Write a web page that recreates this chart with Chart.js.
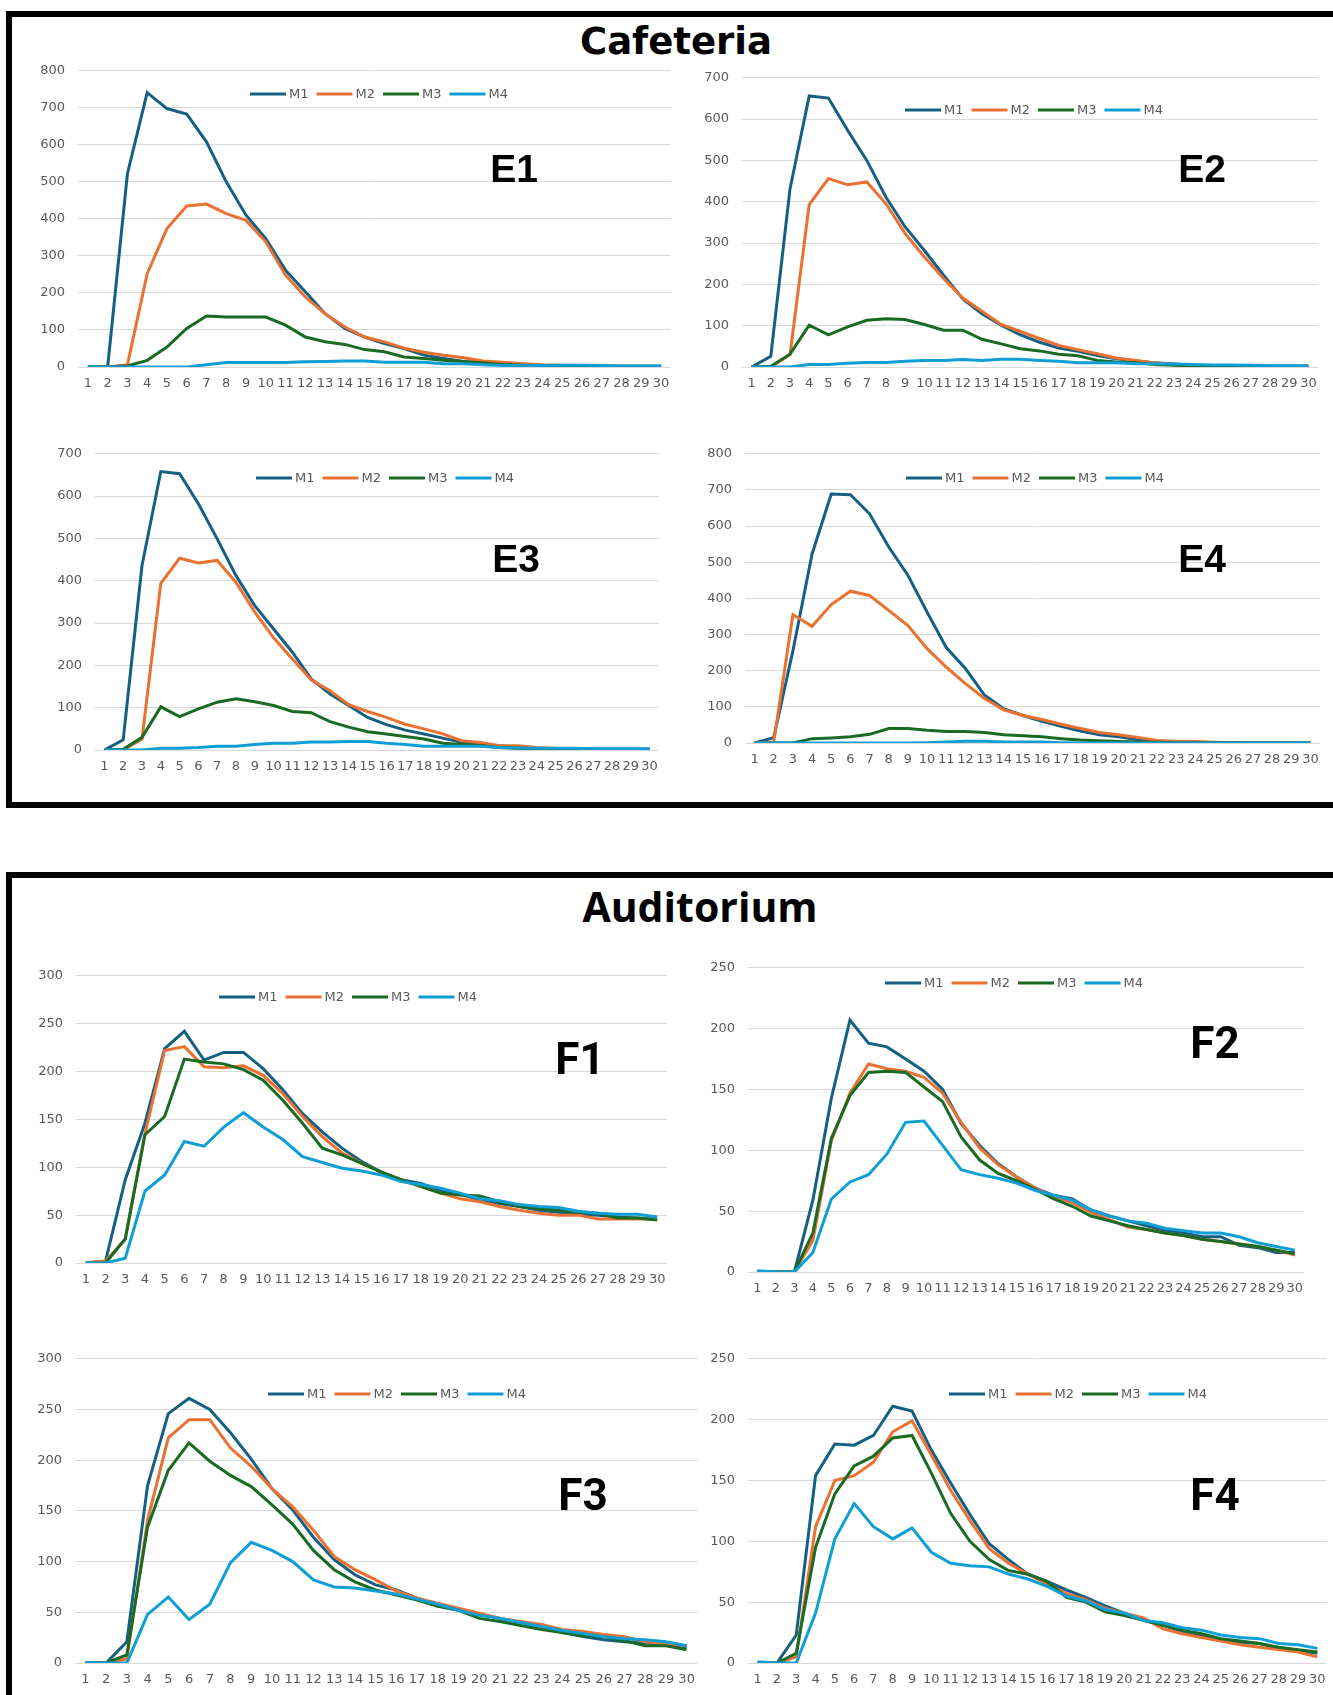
<!DOCTYPE html>
<html>
<head>
<meta charset="utf-8">
<title>Cafeteria / Auditorium</title>
<script src="https://cdn.jsdelivr.net/npm/chart.js@4.4.1/dist/chart.umd.min.js"></script>
<style>
  html, body { margin: 0; padding: 0; background: #fff; }
  #page { position: relative; width: 1333px; height: 1695px; overflow: hidden; background: #fff; }
  .panel { position: absolute; border: 6px solid #000; box-sizing: border-box; }
  .txt { position: absolute; line-height: 1; white-space: nowrap; transform: translateX(-50%); color: #000; font-weight: bold; }
  canvas { position: absolute; }
</style>
</head>
<body>
<div id="page">
  <div class="panel" style="left:6px; top:11px; width:1350px; height:797px;"></div>
  <div class="panel" style="left:6px; top:872px; width:1350px; height:900px;"></div>
  <div class="txt" style="left:676px; top:23px; font-family:'DejaVu Sans'; font-size:37px;">Cafeteria</div>
  <div class="txt" style="left:700px; top:886px; font-family:'Open Sans'; font-size:41px;">Auditorium</div>
</div>
<script>
// x categories (days)
const days = [1, 2, 3, 4, 5, 6, 7, 8, 9, 10, 11, 12, 13, 14, 15, 16, 17, 18, 19, 20, 21, 22, 23, 24, 25, 26, 27, 28, 29, 30];
const seriesNames = ['M1', 'M2', 'M3', 'M4'];

// Cafeteria
const e1M1 = [0, 0, 522, 741, 698, 683, 608, 500, 410, 347, 261, 203, 144, 104, 81, 63, 50, 32, 23, 15, 11, 7, 5, 3, 2, 2, 1, 1, 1, 1];
const e1M2 = [0, 0, 6, 252, 374, 435, 440, 414, 396, 338, 248, 189, 144, 108, 81, 68, 51, 40, 32, 25, 16, 13, 9, 6, 5, 4, 3, 2, 2, 2];
const e1M3 = [0, 0, 3, 18, 54, 104, 138, 135, 135, 135, 113, 81, 68, 61, 47, 41, 27, 23, 18, 15, 11, 7, 5, 4, 3, 2, 2, 2, 2, 2];
const e1M4 = [0, 0, 0, 0, 0, 0, 6, 12, 12, 12, 12, 14, 15, 16, 16, 13, 13, 13, 9, 9, 6, 4, 4, 4, 5, 5, 4, 3, 3, 3];

const e2M1 = [0, 26, 431, 656, 651, 573, 500, 411, 339, 282, 222, 165, 129, 101, 78, 60, 46, 38, 28, 20, 15, 10, 7, 4, 3, 2, 2, 2, 2, 2];
const e2M2 = [0, 0, 30, 393, 456, 441, 448, 395, 323, 266, 214, 167, 135, 103, 86, 69, 52, 42, 32, 22, 16, 10, 6, 4, 3, 2, 2, 2, 2, 2];
const e2M3 = [0, 2, 31, 101, 78, 97, 113, 117, 115, 103, 89, 89, 67, 56, 44, 39, 31, 27, 16, 12, 10, 6, 4, 2, 1, 1, 1, 1, 1, 1];
const e2M4 = [0, 0, 0, 6, 6, 9, 11, 11, 14, 16, 16, 18, 16, 19, 19, 16, 14, 10, 10, 10, 8, 8, 7, 6, 5, 5, 4, 3, 3, 3];

const e3M1 = [0, 24, 436, 658, 653, 582, 499, 412, 341, 286, 231, 168, 132, 105, 77, 60, 47, 38, 28, 18, 14, 10, 6, 4, 3, 3, 2, 2, 2, 2];
const e3M2 = [0, 0, 26, 394, 453, 442, 448, 396, 326, 265, 215, 166, 140, 107, 91, 77, 61, 50, 38, 22, 18, 10, 10, 6, 4, 3, 2, 2, 2, 2];
const e3M3 = [0, 2, 30, 102, 79, 97, 113, 121, 114, 105, 91, 88, 67, 54, 43, 38, 32, 26, 16, 13, 10, 6, 4, 2, 1, 1, 1, 1, 1, 1];
const e3M4 = [0, 0, 0, 4, 4, 6, 9, 9, 13, 16, 16, 19, 19, 20, 20, 16, 13, 9, 9, 9, 9, 6, 5, 4, 4, 4, 3, 3, 3, 3];

const e4M1 = [0, 15, 255, 523, 689, 687, 634, 542, 464, 362, 264, 206, 132, 95, 76, 60, 46, 33, 23, 17, 9, 5, 3, 2, 1, 0, 0, 0, 0, 0];
const e4M2 = [0, 3, 355, 323, 383, 420, 408, 367, 325, 261, 210, 164, 123, 92, 76, 65, 52, 40, 29, 23, 15, 7, 5, 4, 2, 1, 0, 0, 0, 0];
const e4M3 = [0, 0, 0, 12, 14, 17, 24, 40, 40, 35, 32, 32, 29, 23, 20, 17, 12, 8, 6, 4, 3, 2, 1, 1, 1, 0, 0, 0, 0, 0];
const e4M4 = [0, 0, 0, 0, 0, 0, 0, 0, 0, 1, 3, 5, 5, 3, 3, 3, 1, 0, 0, 0, 0, 0, 0, 0, 0, 0, 0, 0, 0, 0];

// Auditorium
const f1M1 = [0, 2, 87, 146, 224, 242, 212, 220, 220, 203, 181, 156, 137, 120, 106, 95, 87, 83, 76, 72, 66, 62, 59, 55, 53, 51, 50, 48, 47, 46];
const f1M2 = [0, 2, 25, 135, 222, 226, 205, 204, 206, 196, 177, 153, 132, 115, 104, 95, 86, 80, 73, 67, 64, 59, 55, 52, 50, 50, 46, 46, 46, 46];
const f1M3 = [0, 0, 25, 134, 153, 213, 210, 208, 202, 191, 170, 146, 120, 113, 104, 95, 87, 80, 73, 71, 70, 64, 59, 57, 55, 53, 52, 47, 47, 45];
const f1M4 = [0, 0, 5, 75, 92, 127, 122, 142, 157, 142, 129, 111, 105, 99, 96, 92, 85, 82, 78, 73, 67, 65, 61, 59, 58, 54, 52, 51, 51, 48];

const f2M1 = [0, 0, 0, 59, 143, 207, 188, 185, 175, 165, 150, 122, 104, 89, 78, 69, 63, 60, 51, 46, 42, 38, 34, 32, 29, 29, 22, 20, 16, 16];
const f2M2 = [0, 0, 0, 26, 108, 147, 171, 167, 165, 160, 147, 123, 102, 88, 78, 69, 62, 57, 49, 43, 37, 35, 32, 30, 27, 25, 23, 21, 18, 14];
const f2M3 = [0, 0, 0, 32, 110, 145, 164, 165, 164, 152, 140, 111, 92, 81, 75, 68, 60, 54, 46, 42, 38, 35, 32, 30, 27, 25, 23, 21, 18, 15];
const f2M4 = [1, 0, 0, 16, 60, 74, 80, 97, 123, 124, 104, 84, 80, 77, 73, 67, 63, 59, 51, 46, 42, 40, 36, 34, 32, 32, 29, 24, 21, 18];

const f3M1 = [0, 0, 21, 175, 246, 261, 250, 227, 201, 172, 151, 124, 102, 87, 77, 72, 64, 57, 52, 48, 44, 40, 36, 30, 26, 23, 21, 20, 18, 16];
const f3M2 = [0, 0, 4, 141, 222, 240, 240, 212, 194, 172, 154, 131, 105, 92, 82, 71, 64, 59, 54, 49, 44, 41, 38, 33, 31, 28, 26, 21, 19, 17];
const f3M3 = [0, 0, 8, 134, 190, 217, 199, 185, 174, 156, 137, 111, 92, 80, 72, 67, 62, 56, 52, 44, 41, 37, 33, 30, 27, 26, 22, 17, 17, 13];
const f3M4 = [0, 0, 0, 48, 65, 43, 58, 99, 119, 111, 100, 82, 75, 74, 71, 68, 63, 58, 52, 47, 44, 40, 36, 32, 29, 26, 24, 23, 21, 17];

const f4M1 = [0, 0, 23, 154, 180, 179, 187, 211, 207, 175, 148, 122, 98, 85, 73, 67, 60, 54, 47, 41, 35, 31, 26, 23, 19, 17, 16, 12, 10, 8];
const f4M2 = [0, 0, 5, 112, 150, 154, 165, 190, 199, 171, 142, 117, 94, 82, 73, 65, 57, 52, 45, 41, 37, 28, 24, 21, 18, 15, 13, 11, 9, 5];
const f4M3 = [0, 0, 8, 95, 139, 162, 170, 185, 187, 156, 123, 100, 85, 76, 73, 67, 54, 50, 42, 39, 35, 31, 27, 24, 20, 18, 16, 13, 11, 9];
const f4M4 = [1, 0, 0, 41, 102, 131, 112, 102, 111, 91, 82, 80, 79, 73, 69, 63, 55, 51, 44, 41, 35, 33, 29, 27, 23, 21, 20, 16, 15, 12];

// y axis maxima and steps
const yMaxE = [800, 700, 700, 800];
const yMaxF = [300, 250, 300, 250];
const yStepE = 100;
const yStepF = 50;

const colors = ['#156082', '#E97132', '#196B24', '#0F9ED5'];

Chart.defaults.font.family = '"DejaVu Sans", sans-serif';
Chart.defaults.font.size = 13;
Chart.defaults.color = '#595959';

// plot area [left, top, right, bottom] and legend centre [x, y], page px
const panels = [
  { name: 'E1', data: [e1M1, e1M2, e1M3, e1M4], max: yMaxE[0], step: yStepE, box: [78, 70.7, 671, 366.7], legend: [379, 94], tag: [514, 149, 'lib'] },
  { name: 'E2', data: [e2M1, e2M2, e2M3, e2M4], max: yMaxE[1], step: yStepE, box: [742, 77.3, 1317.7, 366.7], legend: [1034, 110], tag: [1202, 149, 'lib'] },
  { name: 'E3', data: [e3M1, e3M2, e3M3, e3M4], max: yMaxE[2], step: yStepE, box: [94.7, 453.3, 658.4, 749.3], legend: [385, 478], tag: [516, 539, 'lib'] },
  { name: 'E4', data: [e4M1, e4M2, e4M3, e4M4], max: yMaxE[3], step: yStepE, box: [745.4, 453.3, 1320.6, 742.7], legend: [1035, 478], tag: [1202, 539, 'lib'] },
  { name: 'F1', data: [f1M1, f1M2, f1M3, f1M4], max: yMaxF[0], step: yStepF, box: [75.6, 976, 666.9, 1262.7], legend: [348, 997], tag: [580, 1037, 'rob'] },
  { name: 'F2', data: [f2M1, f2M2, f2M3, f2M4], max: yMaxF[1], step: yStepF, box: [747.7, 967.7, 1303.6, 1271.7], legend: [1014, 983], tag: [1215, 1021, 'rob'] },
  { name: 'F3', data: [f3M1, f3M2, f3M3, f3M4], max: yMaxF[2], step: yStepF, box: [74.5, 1359, 696.4, 1662.7], legend: [397, 1394], tag: [583, 1473, 'rob'] },
  { name: 'F4', data: [f4M1, f4M2, f4M3, f4M4], max: yMaxF[3], step: yStepF, box: [748.3, 1359, 1326.8, 1662.7], legend: [1078, 1394], tag: [1215, 1473, 'rob'] }
];

// legend drawn inside the plot area, Excel style
const inLegend = {
  id: 'inLegend',
  afterDraw(chart, args, opts) {
    const ctx = chart.ctx;
    const sets = chart.data.datasets;
    const LINE = 36, GAP = 3, SPACE = 8;
    ctx.save();
    ctx.font = '13px "DejaVu Sans"';
    ctx.textBaseline = 'middle';
    const widths = sets.map(s => ctx.measureText(s.label).width);
    const total = widths.reduce((a, w) => a + LINE + GAP + w, 0) + SPACE * (sets.length - 1);
    let x = opts.x - total / 2;
    sets.forEach((s, i) => {
      ctx.strokeStyle = s.borderColor;
      ctx.lineWidth = 3;
      ctx.beginPath();
      ctx.moveTo(x, opts.y);
      ctx.lineTo(x + LINE, opts.y);
      ctx.stroke();
      ctx.fillStyle = '#595959';
      ctx.fillText(s.label, x + LINE + GAP, opts.y + 1);
      x += LINE + GAP + widths[i] + SPACE;
    });
    ctx.restore();
  }
};

const page = document.getElementById('page');
const Y_W = 50, PT = 12, PR = 12, X_H = 30;

function buildChart(p, cv, left, top, w, h) {
  cv.width = w; cv.height = h;
  cv.style.left = left + 'px'; cv.style.top = top + 'px';
  cv.style.width = w + 'px'; cv.style.height = h + 'px';
  return new Chart(cv, {
    type: 'line',
    data: {
      labels: days,
      datasets: p.data.map((vals, i) => ({
        label: seriesNames[i],
        data: vals,
        borderColor: colors[i],
        backgroundColor: colors[i],
        borderWidth: 3,
        pointRadius: 0,
        tension: 0,
        order: 4 - i
      }))
    },
    options: {
      responsive: false,
      animation: false,
      layout: { padding: { top: PT, right: PR, left: 0, bottom: 0 } },
      plugins: {
        legend: { display: false },
        tooltip: { enabled: false },
        inLegend: { x: p.legend[0] - left, y: p.legend[1] - top }
      },
      scales: {
        x: {
          offset: true,
          grid: { display: false, drawTicks: false },
          border: { display: false },
          ticks: { autoSkip: false, maxRotation: 0, minRotation: 0, padding: 9 },
          afterFit: s => { s.height = X_H; }
        },
        y: {
          min: 0,
          max: p.max,
          grid: { color: '#d9d9d9', lineWidth: 1, drawTicks: false },
          border: { display: false },
          ticks: { stepSize: p.step, padding: 13 },
          afterFit: s => { s.width = Y_W; }
        }
      }
    },
    plugins: [inLegend]
  });
}

panels.forEach(p => {
  const [l, t, r, b] = p.box;
  const cv = document.createElement('canvas');
  page.appendChild(cv);

  // first pass with a guess, then fit the canvas so the plot area lands on the box
  let left = Math.round(l - Y_W), top = Math.round(t - PT);
  let w = Math.round(r - l + Y_W + PR), h = Math.round(b - t + PT + X_H);
  let chart = buildChart(p, cv, left, top, w, h);
  const ca = chart.chartArea;
  const nl = Math.round(l - ca.left), nt = Math.round(t - ca.top);
  const nw = Math.round(w + (r - l) - (ca.right - ca.left));
  const nh = Math.round(h + (b - t) - (ca.bottom - ca.top));
  chart.destroy();
  chart = buildChart(p, cv, nl, nt, nw, nh);

  const tag = document.createElement('div');
  tag.className = 'txt';
  tag.textContent = p.name;
  tag.style.left = p.tag[0] + 'px';
  tag.style.top = p.tag[1] + 'px';
  if (p.tag[2] === 'lib') { tag.style.fontFamily = '"Liberation Sans", Arial'; tag.style.fontSize = '39px'; }
  else { tag.style.fontFamily = 'Roboto'; tag.style.fontSize = '44px'; }
  page.appendChild(tag);
});
</script>
</body>
</html>
